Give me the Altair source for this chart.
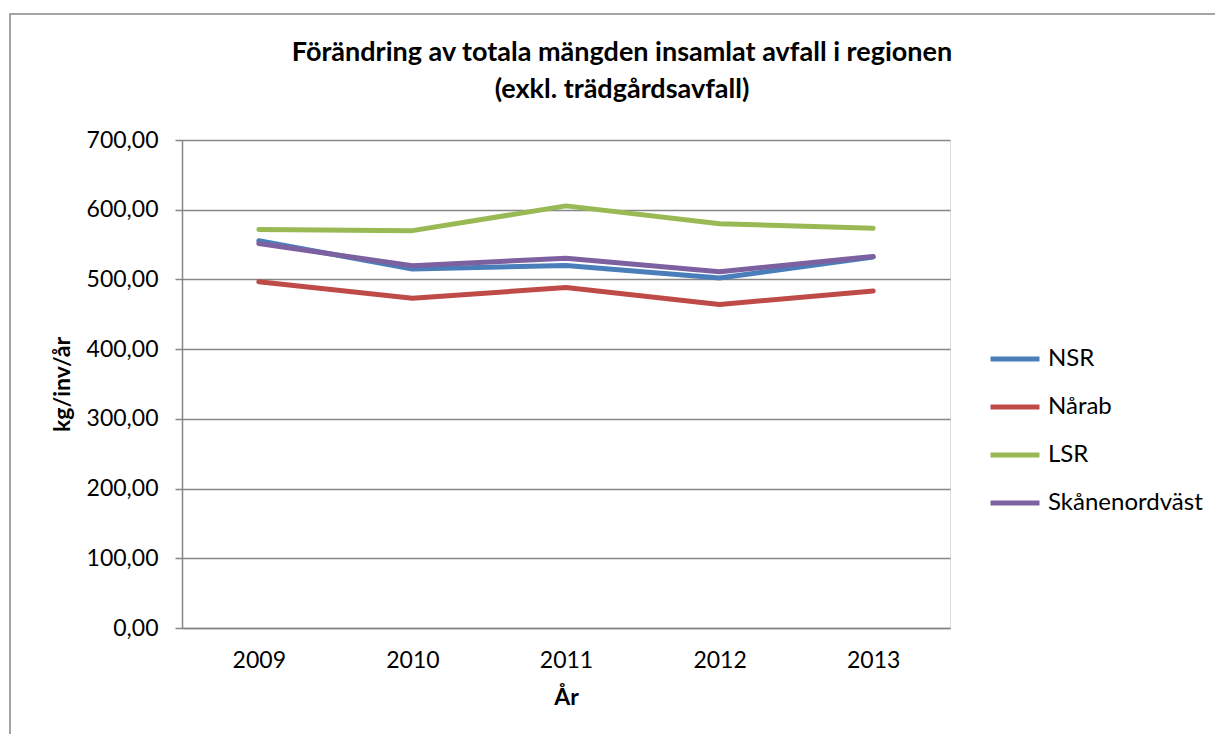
import altair as alt
import pandas as pd

years = ["2009", "2010", "2011", "2012", "2013"]
series_names = ["NSR", "Nårab", "LSR", "Skånenordväst"]
nsr = [555.5, 515.0, 520.0, 502.0, 532.0]
narab = [496.7, 473.0, 488.5, 464.0, 483.5]
lsr = [571.5, 570.0, 605.5, 580.0, 573.5]
skane = [551.5, 519.5, 530.5, 511.0, 533.0]
colors = ["#4A7EBB", "#BE4B48", "#98B954", "#7D60A0"]
title_lines = ["Förändring av totala mängden insamlat avfall i regionen",
               "(exkl. trädgårdsavfall)"]

rows = []
for name, vals in zip(series_names, [nsr, narab, lsr, skane]):
    for y, v in zip(years, vals):
        rows.append({"År": y, "serie": name, "värde": v, "ord": series_names.index(name)})
df = pd.DataFrame(rows)

FONT = "Lato"
GRID = "#868686"
FS = 23

lines = alt.Chart(df).mark_line(strokeWidth=5, strokeCap="round", strokeJoin="round").encode(
    x=alt.X("År:O", scale=alt.Scale(type="point", padding=0.5),
            axis=alt.Axis(title="År", labelAngle=0, ticks=False, domain=True,
                          domainColor=GRID, domainWidth=1.5,
                          labelFontSize=FS, labelFont=FONT, labelColor="#000",
                          labelPadding=21, titleFontSize=FS, titleFont=FONT,
                          titleFontWeight="bold", titleColor="#000", titlePadding=14)),
    y=alt.Y("värde:Q", scale=alt.Scale(domain=[0, 700], nice=False),
            axis=alt.Axis(title="kg/inv/år", values=[0, 100, 200, 300, 400, 500, 600, 700],
                          labelExpr="replace(format(datum.value, '.2f'), '.', ',')",
                          grid=True, gridColor=GRID, gridWidth=1.5,
                          domainColor=GRID, domainWidth=1.5,
                          tickColor=GRID, tickWidth=1.5, tickSize=7,
                          labelFontSize=FS, labelFont=FONT, labelColor="#000",
                          labelPadding=17, titleFontSize=FS, titleFont=FONT,
                          titleFontWeight="bold", titleColor="#000", titlePadding=12)),
    color=alt.Color("serie:N", scale=alt.Scale(domain=series_names, range=colors),
                    legend=alt.Legend(title=None, orient="none", legendX=806, legendY=192,
                                      symbolType="stroke", symbolSize=2400,
                                      symbolStrokeWidth=5, labelFontSize=24,
                                      labelFont=FONT, labelColor="#000",
                                      rowPadding=9, labelOffset=6)),
    order=alt.Order("ord:Q"),
)

frame = alt.Chart(pd.DataFrame({"a": [0]})).mark_rect(
    fill=None, stroke=GRID, strokeWidth=1.5
).encode(
    x=alt.value(-172), x2=alt.value(1100), y=alt.value(-126), y2=alt.value(700)
)

tdf = pd.DataFrame({"t": title_lines, "i": [0, 1]})
title = alt.Chart(tdf).mark_text(
    font=FONT, fontSize=27, fontWeight="bold", color="#000", align="center", baseline="middle"
).encode(
    text="t:N",
    x=alt.value(440),
    y=alt.Y("i:Q", scale=alt.Scale(domain=[0, 1], range=[-87, -50]), axis=None),
)

chart = alt.layer(frame, title, lines).resolve_scale(y="independent").properties(
    width=768, height=488,
    autosize=alt.AutoSizeParams(type="none"),
    padding={"left": 174, "top": 132, "right": 265, "bottom": 106},
).configure_view(stroke=None).configure(background="white")

chart.save("out.html", embed_options={"renderer": "svg", "actions": False})
